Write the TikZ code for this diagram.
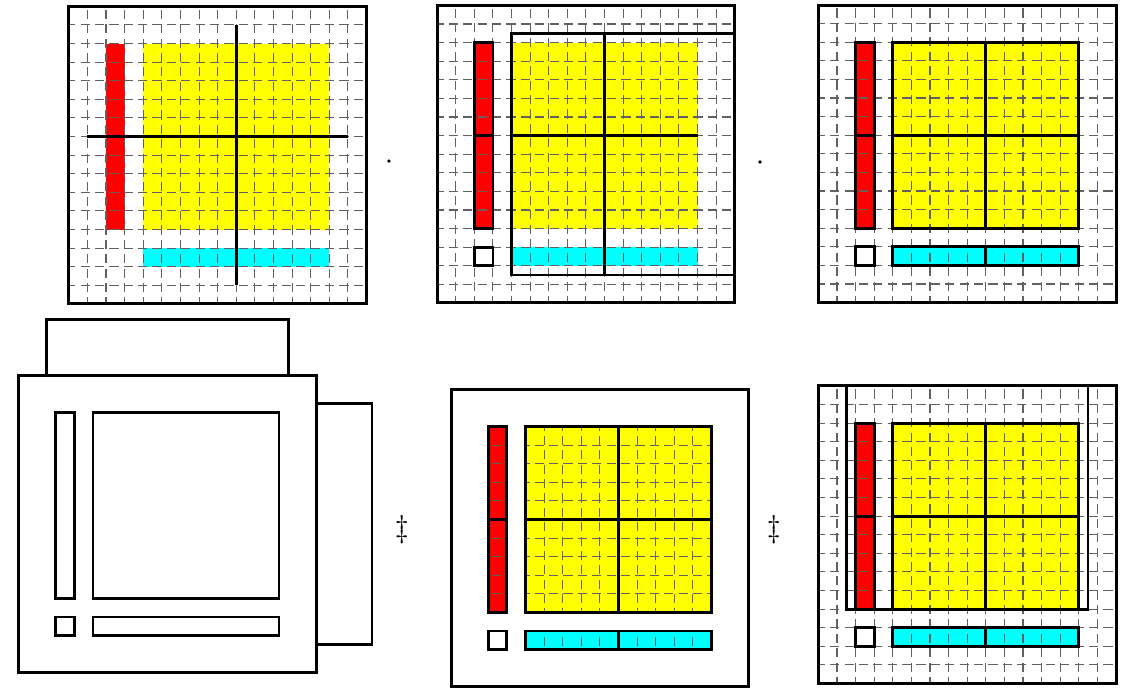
\documentclass[tikz,border=0pt]{standalone}
\usetikzlibrary{calc}
\definecolor{pureRed}{RGB}{255,0,0}
\definecolor{pureYellow}{RGB}{255,255,0}
\definecolor{pureCyan}{RGB}{0,255,255}
\tikzset{
  gridline/.style={draw=black!62, line width=0.8pt, dash pattern=on 7pt off 4pt, dash phase=2pt},
  frame/.style={draw=black, line width=2.3pt},
  bold/.style={draw=black, line width=2.1pt},
  sketch/.style={draw=black, line width=2.2pt},
  redbar/.style={fill=pureRed},
  yelsq/.style={fill=pureYellow},
  cyanbar/.style={fill=pureCyan},
  dotmark/.style={circle, fill=black, inner sep=0pt, minimum size=2.8pt},
  ddagmark/.style={inner sep=0pt, font=\fontsize{24}{28}\selectfont}
}
\newcommand\cellgrid{%
  \foreach \i in {1,...,15} {%
    \draw[gridline] (\i,0) -- (\i,16);
    \draw[gridline] (0,\i) -- (16,\i);
  }%
}
\begin{document}
\begin{tikzpicture}[x=0.5cm,y=0.5cm]
\useasboundingbox (0,0) rectangle (60.86,36.99);
\fill[white] (0,0) rectangle (60.86,36.99);

% ---------- Panel 1 (top left)
\begin{scope}[shift={(3.7,20.65)}]
  \fill[redbar] (2,4) rectangle (3,14);
  \fill[yelsq] (4,4) rectangle (14,14);
  \fill[cyanbar] (4,2) rectangle (14,3);
  \cellgrid
  \draw[bold] (9,1) -- (9,15);
  \draw[bold] (1,9) -- (15,9);
  \draw[frame] (0,0) rectangle (16,16);
\end{scope}

\node[dotmark] (dot1) at (20.91,28.33) {};

% ---------- Panel 2 (top middle)
\begin{scope}[shift={(23.5,20.7)}]
  \fill[redbar] (2,4) rectangle (3,14);
  \fill[yelsq] (4,4) rectangle (14,14);
  \fill[cyanbar] (4,2) rectangle (14,3);
  \cellgrid
  \draw[bold] (2,4) rectangle (3,14);
  \draw[bold] (2,9) -- (3,9);
  \draw[bold] (2,2) rectangle (3,3);
  \draw[bold] (16,14.5) -- (4,14.5) -- (4,1.5) -- (16,1.5);
  \draw[bold] (9,1.5) -- (9,14.5);
  \draw[bold] (4,9) -- (14,9);
  \draw[frame] (0,0) rectangle (16,16);
\end{scope}

\node[dotmark] (dot2) at (40.86,28.28) {};

% ---------- Panel 3 (top right)
\begin{scope}[shift={(44.0,20.72)}]
  \fill[redbar] (2,4) rectangle (3,14);
  \fill[yelsq] (4,4) rectangle (14,14);
  \fill[cyanbar] (4,2) rectangle (14,3);
  \cellgrid
  \draw[bold] (2,4) rectangle (3,14);
  \draw[bold] (2,9) -- (3,9);
  \draw[bold] (4,4) rectangle (14,14);
  \draw[bold] (9,4) -- (9,14);
  \draw[bold] (4,9) -- (14,9);
  \draw[bold] (2,2) rectangle (3,3);
  \draw[bold] (4,2) rectangle (14,3);
  \draw[bold] (9,2) -- (9,3);
  \draw[frame] (0,0) rectangle (16,16);
\end{scope}

% ---------- Panel 4 (bottom left, outline sketch)
\begin{scope}[shift={(1.0,0.82)}]
  \draw[sketch] (1.5,16) rectangle (14.5,19);
  \draw[sketch] (16,1.5) rectangle (19,14.5);
  \draw[sketch] (0,0) rectangle (16,16);
  \draw[sketch] (2,4) rectangle (3,14);
  \draw[sketch] (4,4) rectangle (14,14);
  \draw[sketch] (2,2) rectangle (3,3);
  \draw[sketch] (4,2) rectangle (14,3);
\end{scope}

\node[ddagmark] (dd1) at (21.6,8.53) {\ddag};

% ---------- Panel 5 (bottom middle)
\begin{scope}[shift={(24.25,0.06)}]
  \fill[redbar] (2,4) rectangle (3,14);
  \fill[yelsq] (4,4) rectangle (14,14);
  \fill[cyanbar] (4,2) rectangle (14,3);
  \begin{scope}
    \clip (2,4) rectangle (3,14) (4,4) rectangle (14,14) (4,2) rectangle (14,3);
    \cellgrid
  \end{scope}
  \draw[bold] (2,4) rectangle (3,14);
  \draw[bold] (2,9) -- (3,9);
  \draw[bold] (4,4) rectangle (14,14);
  \draw[bold] (9,4) -- (9,14);
  \draw[bold] (4,9) -- (14,9);
  \draw[bold] (2,2) rectangle (3,3);
  \draw[bold] (4,2) rectangle (14,3);
  \draw[bold] (9,2) -- (9,3);
  \draw[frame] (0,0) rectangle (16,16);
\end{scope}

\node[ddagmark] (dd2) at (41.61,8.53) {\ddag};

% ---------- Panel 6 (bottom right)
\begin{scope}[shift={(44.0,0.24)}]
  \fill[redbar] (2,4) rectangle (3,14);
  \fill[yelsq] (4,4) rectangle (14,14);
  \fill[cyanbar] (4,2) rectangle (14,3);
  \cellgrid
  \draw[bold] (2,4) rectangle (3,14);
  \draw[bold] (2,9) -- (3,9);
  \draw[bold] (4,4) rectangle (14,14);
  \draw[bold] (9,4) -- (9,14);
  \draw[bold] (4,9) -- (14,9);
  \draw[bold] (2,2) rectangle (3,3);
  \draw[bold] (4,2) rectangle (14,3);
  \draw[bold] (9,2) -- (9,3);
  \draw[bold] (1.5,16) -- (1.5,4) -- (14.5,4) -- (14.5,16);
  \draw[frame] (0,0) rectangle (16,16);
\end{scope}
\end{tikzpicture}
\end{document}
